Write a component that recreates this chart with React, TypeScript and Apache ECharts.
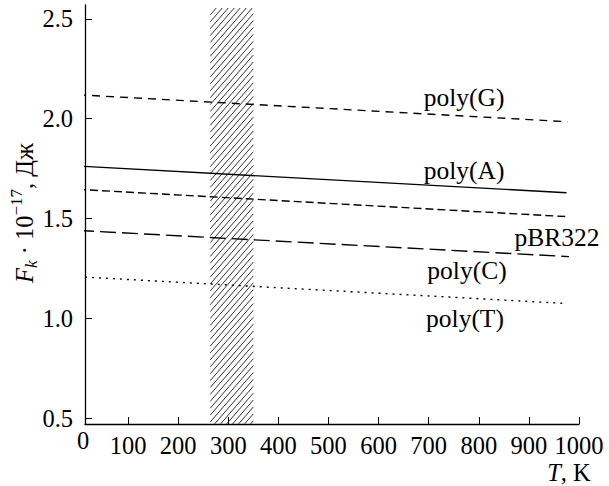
import React, { useEffect, useRef } from "react";
import * as echarts from "echarts";

const seriesNames = ["poly(G)", "poly(A)", "pBR322", "poly(C)", "poly(T)"];
const startT = [0, 0, 0, 0, 0];
const endT = [977, 975, 977, 980, 967];
const startF = [2.12, 1.763, 1.646, 1.44, 1.208];
const endF = [1.985, 1.629, 1.509, 1.309, 1.075];
const dashStyles: any[] = [[8, 6], "solid", [8, 4], [16, 6], [2, 5]];
const yTicks = [0.5, 1.0, 1.5, 2.0, 2.5];
const xTicks = [100, 200, 300, 400, 500, 600, 700, 800, 900, 1000];
const bandT = [264, 350];
const bandTop = 2.555;

const FONT = "'Liberation Serif', 'DejaVu Serif', serif";

export default function App() {
  const ref = useRef<HTMLDivElement>(null);
  useEffect(() => {
    if (!ref.current) return;
    const chart = echarts.init(ref.current, undefined, { renderer: "svg" });

    const lineSeries = seriesNames.map((name, i) => ({
      type: "line",
      name,
      data: [
        [startT[i], startF[i]],
        [endT[i], endF[i]],
      ],
      symbol: "none",
      z: 3,
      lineStyle: { color: "#000", width: 1.4, type: dashStyles[i] },
    }));

    const hatch = {
      type: "custom",
      data: [[bandT[0], bandT[1], bandTop]],
      encode: { x: [0, 1], y: 2 },
      z: 2,
      clip: false,
      renderItem: (params: any, api: any) => {
        const p0 = api.coord([api.value(0), 0.47]);
        const p1 = api.coord([api.value(1), api.value(2)]);
        const x0 = p0[0], x1 = p1[0], yb = p0[1], yt = p1[1];
        const H = yb - yt;
        const s = 1.15;
        const step = 6;
        const children: any[] = [];
        for (let c = x0 - H / s; c < x1; c += step) {
          const lo = Math.max(0, s * (x0 - c));
          const hi = Math.min(H, s * (x1 - c));
          if (lo < hi) {
            children.push({
              type: "line",
              shape: { x1: c + lo / s, y1: yb - lo, x2: c + hi / s, y2: yb - hi },
              style: { stroke: "#333", lineWidth: 1 },
            });
          }
        }
        return { type: "group", children };
      },
    };

    const labelPos = [
      [464, 97],
      [464, 170],
      [557, 237],
      [467, 270],
      [465, 318],
    ];

    chart.setOption({
      animation: false,
      backgroundColor: "#fff",
      grid: { left: 85, right: 30, top: 5, bottom: 62 },
      xAxis: {
        type: "value",
        min: 14,
        max: 1000,
        splitLine: { show: false },
        axisLine: { lineStyle: { color: "#000", width: 1.3 } },
        axisTick: { inside: true, length: 7, customValues: xTicks, lineStyle: { color: "#000", width: 1 } },
        axisLabel: {
          customValues: xTicks,
          color: "#000",
          fontFamily: FONT,
          fontSize: 24.5,
          margin: 9,
          formatter: (v: number) => String(Math.round(v)),
        },
      },
      yAxis: {
        type: "value",
        min: 0.47,
        max: 2.57,
        splitLine: { show: false },
        axisLine: { lineStyle: { color: "#000", width: 1.3 } },
        axisTick: { inside: true, length: 7, customValues: yTicks, lineStyle: { color: "#000", width: 1 } },
        axisLabel: {
          customValues: yTicks,
          color: "#000",
          fontFamily: FONT,
          fontSize: 24.5,
          margin: 12,
          formatter: (v: number) => v.toFixed(1),
        },
      },
      series: [hatch, ...lineSeries],
      graphic: [
        ...seriesNames.map((name, i) => ({
          type: "text",
          x: labelPos[i][0],
          y: labelPos[i][1],
          style: {
            text: name,
            fontFamily: FONT,
            fontSize: 25.5,
            fill: "#000",
            align: "center",
            verticalAlign: "middle",
          },
        })),
        {
          type: "text",
          x: 83,
          y: 440,
          style: {
            text: "0",
            fontFamily: FONT,
            fontSize: 24.5,
            fill: "#000",
            align: "center",
            verticalAlign: "middle",
          },
        },
        {
          type: "text",
          x: 569,
          y: 472,
          style: {
            text: "{i|T}{n|, K}",
            align: "center",
            verticalAlign: "middle",
            rich: {
              i: { fontFamily: FONT, fontSize: 24.5, fontStyle: "italic", fill: "#000" },
              n: { fontFamily: FONT, fontSize: 24.5, fill: "#000" },
            },
          },
        },
        {
          type: "text",
          x: 24,
          y: 213,
          rotation: Math.PI / 2,
          style: {
            text: "{i|F}{sub|k}{n| · 10}{sup|−17}{n|, Дж}",
            align: "center",
            verticalAlign: "middle",
            rich: {
              i: { fontFamily: FONT, fontSize: 24.5, fontStyle: "italic", fill: "#000", lineHeight: 32 },
              sub: { fontFamily: FONT, fontSize: 17, fontStyle: "italic", fill: "#000", verticalAlign: "bottom", lineHeight: 32 },
              n: { fontFamily: FONT, fontSize: 24.5, fill: "#000", lineHeight: 32 },
              sup: { fontFamily: FONT, fontSize: 17, fill: "#000", verticalAlign: "top", lineHeight: 32 },
            },
          },
        },
      ],
    });
    return () => chart.dispose();
  }, []);
  return <div ref={ref} style={{ position: "absolute", left: 0, top: 0, width: 609, height: 486 }} />;
}
